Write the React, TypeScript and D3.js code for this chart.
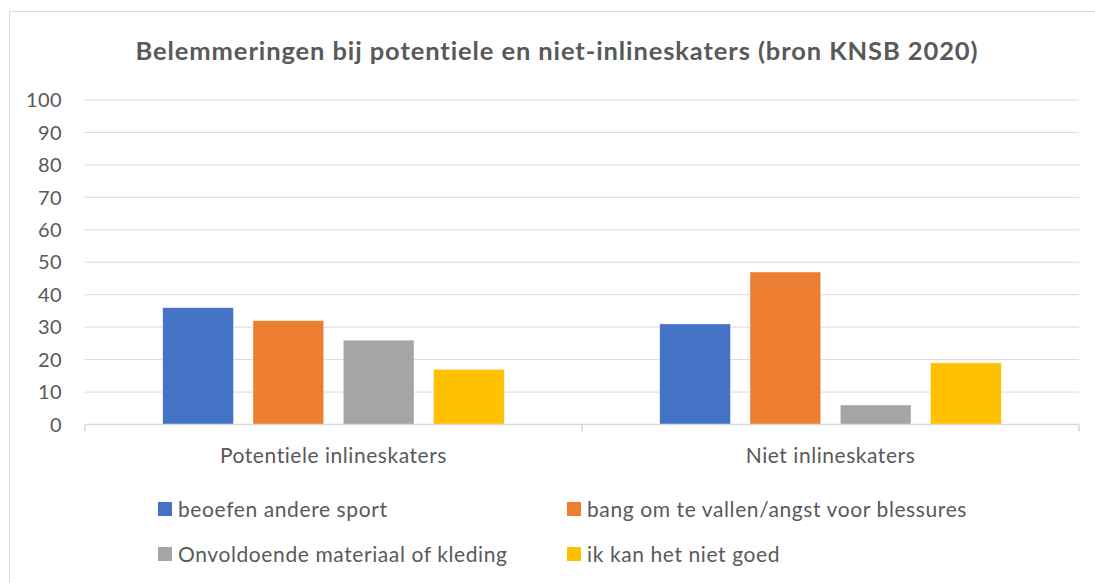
import React from "react";
import * as d3 from "d3";

const categories = ["Potentiele inlineskaters", "Niet inlineskaters"];
const seriesNames = [
  "beoefen andere sport",
  "bang om te vallen/angst voor blessures",
  "Onvoldoende materiaal of kleding",
  "ik kan het niet goed",
];
const seriesColors = ["#4472C4", "#ED7D31", "#A5A5A5", "#FFC000"];
const valuesPotentiele = [36, 32, 26, 17];
const valuesNiet = [31, 47, 6, 19];
const yTicks = [0, 10, 20, 30, 40, 50, 60, 70, 80, 90, 100];
const title = "Belemmeringen bij potentiele en niet-inlineskaters (bron KNSB 2020)";

const W = 1095;
const H = 583;
const FONT = "Lato, Carlito, Calibri, 'Open Sans', sans-serif";
const TXT = "#595959";
const GRID = "#D9D9D9";

export default function App() {
  const data = [valuesPotentiele, valuesNiet];
  const plotLeft = 85;
  const plotRight = 1079;
  const y = d3.scaleLinear().domain([0, 100]).range([424.5, 100]);
  const x0 = d3.scaleBand().domain(categories).range([plotLeft, plotRight]).paddingInner(0).paddingOuter(0);
  const bw = x0.bandwidth();
  const groupOuter = 77.7;
  const x1 = d3
    .scaleBand()
    .domain(seriesNames)
    .range([groupOuter, bw - groupOuter])
    .paddingInner(0.216)
    .paddingOuter(0);

  const legendPos = [
    { x: 158, y: 509 },
    { x: 567, y: 509 },
    { x: 158, y: 554 },
    { x: 567, y: 554 },
  ];

  return (
    <svg
      width={W}
      height={H}
      style={{ position: "absolute", left: 0, top: 0, background: "#fff" }}
      fontFamily={FONT}
    >
      <rect x={9.5} y={11.5} width={1100} height={600} fill="#fff" stroke={GRID} strokeWidth={1} />
      <text
        x={557}
        y={60}
        textAnchor="middle"
        fontSize={25.5}
        fontWeight="bold"
        letterSpacing={0.9}
        fill={TXT}
      >
        {title}
      </text>
      {yTicks.map((t) => (
        <g key={t}>
          {t > 0 && (
            <line x1={plotLeft} x2={plotRight} y1={y(t)} y2={y(t)} stroke={GRID} strokeWidth={1} />
          )}
          <text x={62} y={y(t)} dy="0.36em" textAnchor="end" fontSize={20} letterSpacing={0.4} fill={TXT}>
            {t}
          </text>
        </g>
      ))}
      {categories.map((c, ci) => (
        <g key={c} transform={`translate(${x0(c)},0)`}>
          {data[ci].map((v, si) => (
            <rect
              key={si}
              x={x1(seriesNames[si])}
              y={y(v)}
              width={x1.bandwidth()}
              height={y(0) - y(v)}
              fill={seriesColors[si]}
              stroke="#fff"
              strokeWidth={0.75}
              strokeOpacity={0.6}
            />
          ))}
        </g>
      ))}
      <line x1={plotLeft} x2={plotRight} y1={y(0)} y2={y(0)} stroke={GRID} strokeWidth={1.5} />
      {[...categories.map((c) => x0(c)!), plotRight].map((tx, i) => (
        <line key={i} x1={tx} x2={tx} y1={y(0)} y2={y(0) + 7} stroke={GRID} strokeWidth={1.5} />
      ))}
      {categories.map((c) => (
        <text
          key={c}
          x={x0(c)! + bw / 2}
          y={463}
          textAnchor="middle"
          fontSize={21}
          letterSpacing={0.55}
          fill={TXT}
        >
          {c}
        </text>
      ))}
      {seriesNames.map((s, i) => (
        <g key={s}>
          <rect x={legendPos[i].x} y={legendPos[i].y - 7} width={14} height={14} fill={seriesColors[i]} />
          <text
            x={legendPos[i].x + 20}
            y={legendPos[i].y}
            dy="0.36em"
            fontSize={21}
            letterSpacing={0.6}
            fill={TXT}
          >
            {s}
          </text>
        </g>
      ))}
    </svg>
  );
}
